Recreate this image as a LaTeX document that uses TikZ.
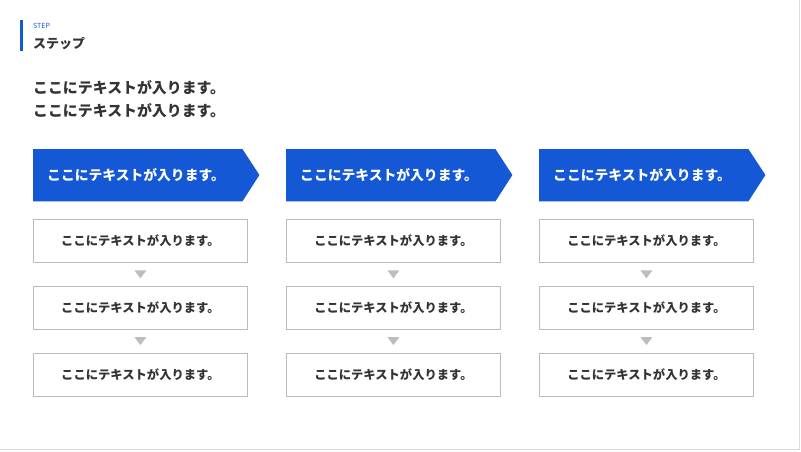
\documentclass[tikz,border=0pt]{standalone}
\usepackage{fontspec}
\setmainfont{Noto Sans CJK JP}
\usepackage{xcolor}
\definecolor{StepBlue}{HTML}{1558D6}
\definecolor{TextDark}{HTML}{333333}
\definecolor{BoxGray}{HTML}{BBBBBB}
\definecolor{MarkGray}{HTML}{BDBDBD}
\definecolor{FrameGray}{HTML}{DADADA}
\usetikzlibrary{positioning, calc, backgrounds}
\tikzset{
  % Box styles
  headbox/.style={rectangle, text=white, minimum width=209pt, minimum height=52pt, inner xsep=14pt, text width=181pt, align=left, font=\bfseries\fontsize{13.8}{16}\selectfont},
  itembox/.style={rectangle, draw=BoxGray, fill=white, line width=0.8pt, minimum width=214pt, minimum height=43pt, align=center, text=TextDark, font=\bfseries\fontsize{12.3}{14}\selectfont},
  % Text styles
  plaintext/.style={inner sep=0pt, anchor=west, align=left, text=TextDark},
  % Marker styles
  downmark/.style={fill=MarkGray}
}

\begin{document}
\begin{tikzpicture}[x=1pt, y=-1pt]
  \useasboundingbox (0,0) rectangle (801,451);
  % Frame
  \draw[FrameGray, line width=1pt] (799.5,0) -- (799.5,449.5) -- (0,449.5);

  % Title
  \draw[StepBlue, line width=3pt] (21.5,20) -- (21.5,51);
  \node[plaintext, text=StepBlue, font=\fontsize{7}{8}\selectfont] (steplabel) at (33,26) {STEP};
  \node[plaintext, font=\bfseries\fontsize{13}{15}\selectfont] (steptitle) at (33,44) {ステップ};

  % Lead text
  \node[plaintext, font=\bfseries\fontsize{14.9}{23}\selectfont] (lead) at (33,99.5) {ここにテキストが入ります。\\ここにテキストが入ります。};

  % Columns
  \foreach \i/\x in {1/33, 2/286, 3/539} {
    \node[headbox, anchor=north west] (head\i) at (\x,149) {ここにテキストが入ります。};
    \begin{scope}[on background layer]
      \fill[StepBlue] (head\i.north west) -- (head\i.north east) -- ++(17,26) -- (head\i.south east) -- (head\i.south west) -- cycle;
    \end{scope}

    \node[itembox, anchor=north west] (item\i-1) at (\x,219) {ここにテキストが入ります。};
    \node[itembox, below=23pt of item\i-1] (item\i-2) {ここにテキストが入ります。};
    \node[itembox, below=23pt of item\i-2] (item\i-3) {ここにテキストが入ります。};

    % Markers
    \fill[downmark] ($(item\i-1.south)!.5!(item\i-2.north)$) ++(-6,-4) -- ++(12,0) -- ++(-6,8) -- cycle;
    \fill[downmark] ($(item\i-2.south)!.5!(item\i-3.north)$) ++(-6,-4) -- ++(12,0) -- ++(-6,8) -- cycle;
  }
\end{tikzpicture}
\end{document}
